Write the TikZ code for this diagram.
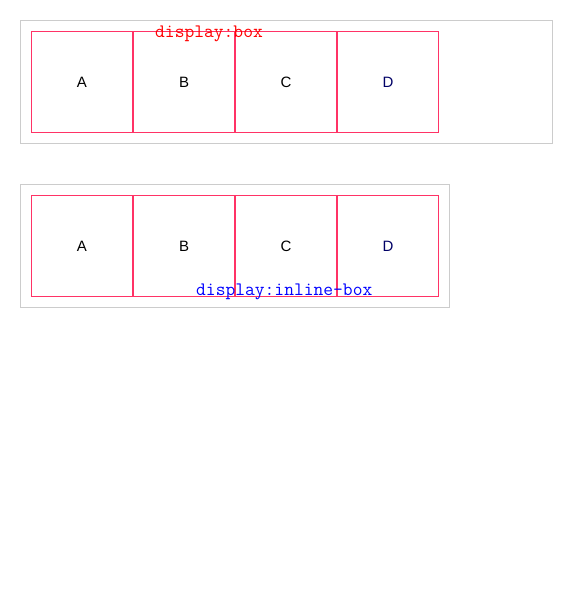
\documentclass[tikz,border=0pt]{standalone}
\usepackage{fontspec}
\setmainfont{Liberation Sans}
\newfontfamily\monofont{Latin Modern Mono}
\definecolor{cellred}{HTML}{FF3366}
\definecolor{outergray}{HTML}{CCCCCC}
\definecolor{navyd}{HTML}{000066}
\begin{document}
\begin{tikzpicture}[x=1pt,y=-1pt,
  outerbox/.style={draw=outergray,line width=1pt},
  cell/.style={draw=cellred,line width=1pt,minimum width=101pt,minimum height=101pt,inner sep=0pt,anchor=north west,font=\fontsize{15}{18}\selectfont},
  lbl/.style={anchor=base west,inner sep=0pt,font=\monofont\fontsize{19}{20}\selectfont}]
\useasboundingbox (0,0) rectangle (573,596);
\fill[white] (0,0) rectangle (573,596);
% first container
\node[outerbox,anchor=north west,minimum width=532pt,minimum height=123pt,inner sep=0pt] (box1) at (20,20) {};
\node[cell] (a1) at (31,31) {A};
\node[cell] (b1) at (133,31) {B};
\node[cell] (c1) at (235,31) {C};
\node[cell,text=navyd] (d1) at (337,31) {D};
\node[lbl,text=red] (l1) at (155,38) {display:box};
% second container
\node[outerbox,anchor=north west,minimum width=429pt,minimum height=123pt,inner sep=0pt] (box2) at (20,184) {};
\node[cell] (a2) at (31,195) {A};
\node[cell] (b2) at (133,195) {B};
\node[cell] (c2) at (235,195) {C};
\node[cell,text=navyd] (d2) at (337,195) {D};
\node[lbl,text=blue] (l2) at (196,295) {display:inline-box};
\end{tikzpicture}
\end{document}
